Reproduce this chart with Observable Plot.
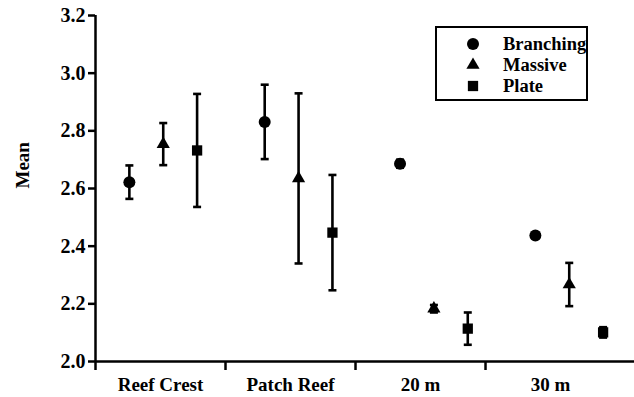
<!DOCTYPE html>
<html>
<head>
<meta charset="utf-8">
<script src="https://cdn.jsdelivr.net/npm/d3@7"></script>
<script src="https://cdn.jsdelivr.net/npm/@observablehq/plot@0.6"></script>
<style>
  body { margin: 0; background: #fff; }
  #chart { position: relative; width: 634px; height: 397px; font-family: "Liberation Serif", "Times New Roman", serif; font-weight: bold; }
  #legend { position: absolute; left: 435px; top: 26px; width: 149px; height: 71px; border: 2px solid #000; background: #fff; }
  #legend .sym { position: absolute; }
  #legend .lab { position: absolute; font-size: 18.5px; line-height: 20px; white-space: nowrap; }
</style>
</head>
<body>
<div id="chart"><div id="legend"></div></div>
<script>
// Mean (± SEM) by growth form across reef zones
const categories = ["Reef Crest", "Patch Reef", "20 m", "30 m"];
const series = ["Branching", "Massive", "Plate"];
const branchingMean = [2.622, 2.831, 2.686, 2.437];
const branchingSem  = [0.058, 0.129, 0.014, 0.006];
const massiveMean   = [2.754, 2.635, 2.183, 2.267];
const massiveSem    = [0.073, 0.295, 0.013, 0.075];
const plateMean     = [2.732, 2.447, 2.114, 2.101];
const plateSem      = [0.196, 0.200, 0.056, 0.018];
const yTicks = [2.0, 2.2, 2.4, 2.6, 2.8, 3.0, 3.2];

// x runs in category-band units; points sit in evenly spaced slots within each group
const groupStep = 1.041, slotStep = 0.2605, xMax = 4.146;
const means = [branchingMean, massiveMean, plateMean];
const sems = [branchingSem, massiveSem, plateSem];
const rows = [];
series.forEach((s, j) => categories.forEach((c, i) => rows.push({
  category: c, series: s, mean: means[j][i], sem: sems[j][i],
  pos: groupStep * i + slotStep * (j + 1)
})));

const symbolOf = {Branching: "circle", Massive: "triangle", Plate: "square"};
const radiusOf = {Branching: 6, Massive: 4.9, Plate: 5.8};
const cap = {draw(ctx) { ctx.moveTo(-4, 0); ctx.lineTo(4, 0); }};
const boundaries = d3.range(categories.length);
const centers = boundaries.map(i => i + 0.5);

const chart = Plot.plot({
  width: 634,
  height: 397,
  marginLeft: 95,
  marginRight: 0,
  marginTop: 15,
  marginBottom: 36,
  style: {fontFamily: "'Liberation Serif', 'Times New Roman', serif", fontWeight: "bold", fontSize: "19px", color: "#000", background: "#fff"},
  x: {domain: [0, xMax]},
  y: {domain: [2.0, 3.2]},
  marks: [
    Plot.ruleX([0], {stroke: "#000", strokeWidth: 2.5}),
    Plot.ruleY([2.0], {stroke: "#000", strokeWidth: 2.5}),
    Plot.axisY(yTicks, {tickSize: 7, tickPadding: 3, tickFormat: d3.format(".1f"), strokeWidth: 2.5, fontSize: 20, label: null}),
    Plot.axisX(boundaries, {tickSize: 9, tickFormat: () => "", strokeWidth: 2.5, label: null}),
    Plot.axisX(centers, {tickSize: 0, tickPadding: 16, tickFormat: d => categories[Math.floor(d)], fontSize: 19, label: null}),
    Plot.text(["Mean"], {frameAnchor: "left", rotate: -90, dx: -73, fontSize: 19, fill: "#000"}),
    Plot.ruleX(rows, {x: "pos", y1: d => d.mean - d.sem, y2: d => d.mean + d.sem, stroke: "#000", strokeWidth: 2.6}),
    Plot.dot(rows, {x: "pos", y: d => d.mean - d.sem, symbol: () => cap, stroke: "#000", strokeWidth: 2.6}),
    Plot.dot(rows, {x: "pos", y: d => d.mean + d.sem, symbol: () => cap, stroke: "#000", strokeWidth: 2.6}),
    Plot.dot(rows, {x: "pos", y: "mean", symbol: d => symbolOf[d.series], r: d => radiusOf[d.series], fill: "#000", stroke: "none"})
  ],
  symbol: {type: "identity"},
  r: {type: "identity"}
});
const host = document.getElementById("chart");
host.insertBefore(chart, host.firstChild);

// legend box with the same symbols
const legend = document.getElementById("legend");
const d3sym = {circle: d3.symbolCircle, triangle: d3.symbolTriangle, square: d3.symbolSquare};
series.forEach((s, j) => {
  const cy = 16 + 21 * j;
  const size = Math.PI * radiusOf[s] ** 2;
  const svg = d3.create("svg").attr("class", "sym").attr("width", 16).attr("height", 16)
    .style("left", `${36 - 8}px`).style("top", `${cy - 8}px`);
  svg.append("path").attr("transform", "translate(8,8)")
    .attr("d", d3.symbol(d3sym[symbolOf[s]], size)()).attr("fill", "#000");
  legend.appendChild(svg.node());
  const lab = document.createElement("div");
  lab.className = "lab";
  lab.style.left = "66px";
  lab.style.top = `${cy - 10}px`;
  lab.textContent = s;
  legend.appendChild(lab);
});
</script>
</body>
</html>
